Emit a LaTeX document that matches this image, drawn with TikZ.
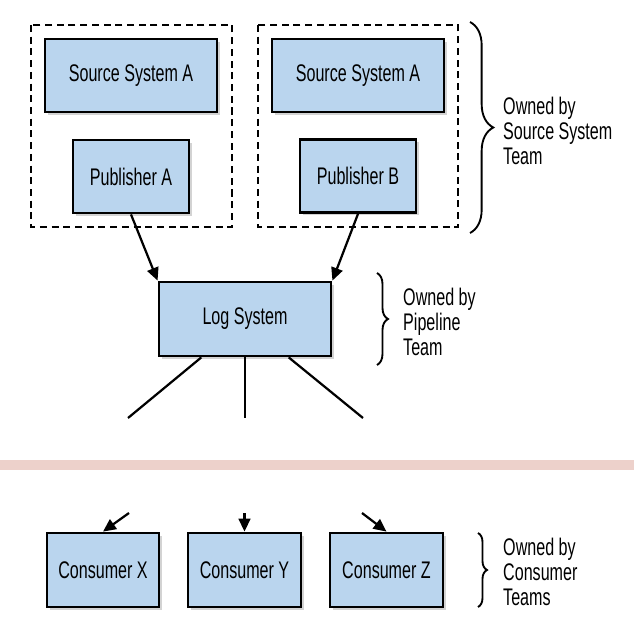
\documentclass[tikz,border=0pt]{standalone}
\usepackage{fontspec}
\setmainfont[FakeStretch=0.67]{Liberation Sans}
\usepackage{xcolor}
\usepackage{tikz}
\usetikzlibrary{calc,arrows.meta,shadows,decorations.pathreplacing}
\definecolor{boxblue}{RGB}{186,213,238}
\definecolor{bandpink}{RGB}{237,209,203}

\begin{document}
\begin{tikzpicture}[x=0.03cm,y=-0.03cm,font=\fontsize{20.5}{21}\selectfont,
  sys/.style={draw,line width=2.4pt,fill=boxblue,inner sep=0pt,
    drop shadow={shadow xshift=2.5pt,shadow yshift=-2.5pt,opacity=0.35}},
  grp/.style={draw,line width=1.8pt,dash pattern=on 6pt off 4pt},
  link/.style={line width=1.9pt},
  feed/.style={line width=1.9pt,-{Triangle[length=11pt,width=10pt]}},
  owner/.style={align=left,anchor=west,inner sep=0pt},
  team/.style={line width=1.6pt,decorate,decoration={brace,amplitude=#1}}]
  \useasboundingbox (0,0) rectangle (634,622);
  % source side
  \draw[grp] (31,25) rectangle (232,227);
  \draw[grp] (258,25) rectangle (458,227);
  \node[sys,minimum width=5.16cm,minimum height=2.19cm] (srcA) at (131,75.5) {Source System A};
  \node[sys,minimum width=3.48cm,minimum height=2.19cm] (pubA) at (131,176.5) {Publisher A};
  \node[sys,minimum width=5.16cm,minimum height=2.19cm] (srcB) at (358,75.5) {Source System A};
  \node[sys,minimum width=3.48cm,minimum height=2.19cm] (pubB) at (358,176) {Publisher B};
  % pipeline
  \node[sys,minimum width=5.16cm,minimum height=2.22cm] (log) at (245,319) {Log System};
  \draw[feed] (pubA.south) -- (log.north west);
  \draw[feed] (pubB.south) -- (log.north east);
  \coordinate (cutX) at (128,418);
  \coordinate (cutY) at (245,418);
  \coordinate (cutZ) at (363,418);
  \draw[link] ($(log.south west)!0.25!(log.south east)$) -- (cutX);
  \draw[link] (log.south) -- (cutY);
  \draw[link] ($(log.south west)!0.75!(log.south east)$) -- (cutZ);
  % break
  \fill[bandpink] (0,460) rectangle (634,470);
  % consumers
  \node[sys,minimum width=3.36cm,minimum height=2.22cm] (consX) at (103,570) {Consumer X};
  \node[sys,minimum width=3.39cm,minimum height=2.22cm] (consY) at (244.5,570) {Consumer Y};
  \node[sys,minimum width=3.39cm,minimum height=2.22cm] (consZ) at (386.5,570) {Consumer Z};
  \coordinate (inX) at (129,513);
  \coordinate (inY) at (244.5,513);
  \coordinate (inZ) at (362,513);
  \draw[feed] (inX) -- (consX.north);
  \draw[feed] (inY) -- (consY.north);
  \draw[feed] (inZ) -- (consZ.north);
  % owners
  \draw[team=0.7cm] (470,22) -- (470,233);
  \node[owner] (ownSrc) at (503,131) {Owned by\\Source System\\Team};
  \draw[team=0.33cm] (377,273) -- (377,365);
  \node[owner] (ownPipe) at (403,322) {Owned by\\Pipeline\\Team};
  \draw[team=0.27cm] (478,533) -- (478,607);
  \node[owner] (ownCons) at (503,572) {Owned by\\Consumer\\Teams};
\end{tikzpicture}
\end{document}
